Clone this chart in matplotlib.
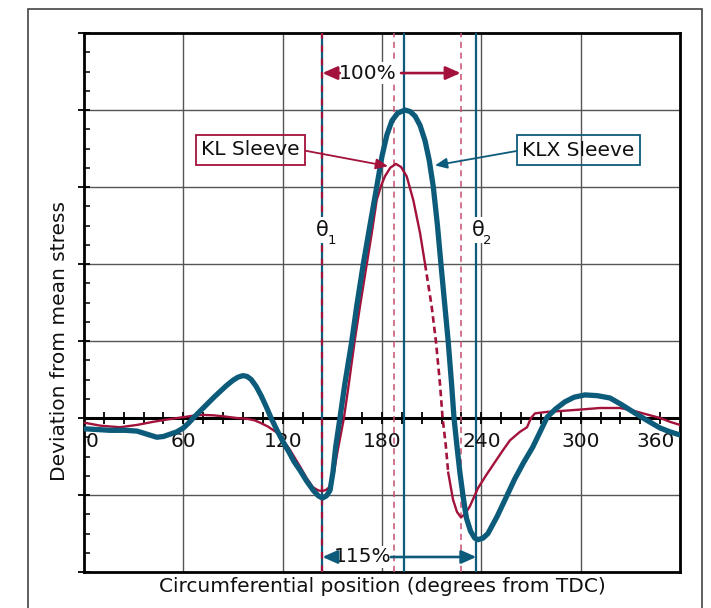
import matplotlib
matplotlib.use("Agg")
import matplotlib.pyplot as plt
from matplotlib.patches import Rectangle
import numpy as np

plt.rcParams['font.family'] = ['DejaVu Sans']

# ---------------- data ----------------
klx_x = [0, 8, 15.7, 25, 32, 38, 44, 48, 52, 56, 60, 63, 66, 72, 79, 86, 90, 93, 96, 98.5,
         101, 104, 107, 110, 113, 116.6, 120, 124, 127, 130.5, 134.5, 138.5, 141.5, 144,
         146.5, 148.6, 150.4, 152, 154.6, 157.6, 161.7, 164.7, 168.7, 172.7, 176.8, 180, 183,
         186, 189.5, 193.9, 197, 200, 203, 206, 208.5, 211, 213.5, 215.6, 218, 220, 222,
         223.5, 225.2, 227, 229, 231, 233.5, 236, 238, 241, 244, 249.5, 255, 260, 265.5, 271,
         275.5, 279.7, 285, 290.5, 296, 302.6, 310, 317.7, 325, 331.6, 340, 348, 354, 360]
klx_y = [-0.14, -0.15, -0.16, -0.16, -0.17, -0.21, -0.25, -0.24, -0.21, -0.18, -0.13, -0.07,
         0, 0.13, 0.28, 0.42, 0.49, 0.53, 0.55, 0.54, 0.5, 0.41, 0.29, 0.15, 0.0, -0.16, -0.3,
         -0.45, -0.57, -0.68, -0.82, -0.94, -1.01, -1.04, -1.01, -0.94, -0.7, -0.38, 0, 0.45,
         0.99, 1.45, 2.0, 2.5, 3.0, 3.4, 3.68, 3.86, 3.96, 4.0, 3.98, 3.92, 3.8, 3.6, 3.35,
         3.0, 2.5, 2.0, 1.45, 0.99, 0.45, 0, -0.35, -0.7, -1.02, -1.3, -1.47, -1.56, -1.58,
         -1.56, -1.5, -1.28, -1.03, -0.8, -0.58, -0.38, -0.18, 0.01, 0.12, 0.21, 0.27, 0.30,
         0.29, 0.26, 0.17, 0.08, -0.03, -0.13, -0.18, -0.22]

kl_x = [0, 10, 21.7, 32, 41.7, 50, 59.8, 66, 71.9, 78, 85, 92, 98.5, 103, 106.3, 111, 116.6,
        120, 124, 130.5, 134.5, 138.3, 141.5, 144, 146.5, 148.6, 151, 153, 157, 160, 163.5,
        166.7, 170.8, 173.8, 176.8, 179.5, 181.8, 185, 188.4, 191.5, 194.9, 198.9, 203, 206,
        210, 212.6, 215, 216.6, 218.5, 220, 222.9, 225.3, 227.7, 230, 233, 238, 243, 248.3,
        253, 257.3, 263.3, 267.6, 270, 272.4, 280, 287.5, 300, 311.7, 323.7, 331, 337.6, 348,
        354, 360]
kl_y = [-0.06, -0.1, -0.12, -0.09, -0.05, -0.02, 0.01, 0.03, 0.04, 0.035, 0.02, 0.0, -0.01,
        -0.03, -0.06, -0.11, -0.19, -0.28, -0.4, -0.63, -0.78, -0.9, -0.94, -0.95, -0.93,
        -0.89, -0.7, -0.45, 0, 0.45, 1.0, 1.45, 2.0, 2.4, 2.83, 3.02, 3.14, 3.25, 3.3, 3.26,
        3.14, 2.83, 2.4, 2.0, 1.45, 0.99, 0.45, 0, -0.35, -0.71, -1.06, -1.22, -1.29, -1.25,
        -1.15, -0.91, -0.74, -0.57, -0.42, -0.29, -0.18, -0.12, 0, 0.06, 0.08, 0.09, 0.11,
        0.13, 0.13, 0.1, 0.06, 0, -0.05, -0.09]
kl_dash_start, kl_dash_end = 206, 220

theta1 = 144
kl_peak_x, kl_end_x = 187.3, 227.5
klx_peak_x, klx_end_x = 193.0, 237.0

xtick_vals = [0, 60, 120, 180, 240, 300, 360]
xtick_labels = ['0', '60', '120', '180', '240', '300', '360']
xtick_label_pos = [5, 60, 120, 180, 240, 300, 345.5]

RED = '#a3123a'
RED_L = '#c8506f'
BLUE = '#0d5b7b'
GRID = '#555555'

# ---------------- figure ----------------
fig = plt.figure(figsize=(7.11, 6.08), dpi=100)
ax = fig.add_axes([84/711, 1-572/608, (680-84)/711, (572-33)/608])
ax.set_xlim(0, 360)
ax.set_ylim(-2, 5)

# outer frame
fig.add_artist(Rectangle((28/711, -0.05), (702-28)/711, 1.05-9/608, transform=fig.transFigure,
                         fill=False, edgecolor='#444444', linewidth=1.2))

# grid
for gx in [60, 120, 180, 240, 300]:
    ax.axvline(gx, color=GRID, lw=1.0, zorder=1)
for gy in [-1, 1, 2, 3, 4]:
    ax.axhline(gy, color=GRID, lw=1.0, zorder=1)
ax.axhline(0, color='black', lw=2.2, zorder=2)

# minor x ticks on zero line
tx = np.arange(12, 360, 12)
ax.plot(tx, np.zeros_like(tx), linestyle='none', marker='|', markersize=9, mew=1.3,
        color='black', zorder=2)

# y ticks
ax.set_xticks([])
ax.set_yticks(np.arange(-2, 6, 1))
ax.set_yticks(np.arange(-2, 5.01, 0.25), minor=True)
ax.tick_params(axis='y', which='major', direction='inout', length=8, width=1.3, labelleft=False)
ax.tick_params(axis='y', which='minor', direction='in', length=4, width=1.1)
for s in ax.spines.values():
    s.set_linewidth(2.0)
    s.set_color('black')

# reference vertical lines
ax.axvline(theta1, color=BLUE, lw=1.6, zorder=3)
ax.axvline(theta1, color=RED, lw=1.6, ls=(0, (3, 3)), zorder=3.1)
ax.axvline(kl_peak_x, color=RED_L, lw=1.1, ls=(0, (4, 3)), zorder=3)
ax.axvline(kl_end_x, color=RED_L, lw=1.1, ls=(0, (4, 3)), zorder=3)
ax.axvline(klx_peak_x, color=BLUE, lw=1.6, zorder=3)
ax.axvline(klx_end_x, color=BLUE, lw=1.6, zorder=3)

# curves
kx = np.array(kl_x); ky = np.array(kl_y)
m1 = kx <= kl_dash_start
m2 = (kx >= kl_dash_start) & (kx <= kl_dash_end)
m3 = kx >= kl_dash_end
ax.plot(kx[m1], ky[m1], color=RED, lw=1.7, zorder=5, solid_joinstyle='round')
ax.plot(kx[m2], ky[m2], color=RED, lw=1.9, ls=(0, (2.5, 1.5)), zorder=5)
ax.plot(kx[m3], ky[m3], color=RED, lw=1.7, zorder=5, solid_joinstyle='round')
ax.plot(klx_x, klx_y, color=BLUE, lw=3.8, zorder=6, solid_joinstyle='round',
        solid_capstyle='round')

# x tick labels
for v, lab in zip(xtick_label_pos, xtick_labels):
    ax.text(v, -0.31, lab, ha='center', va='center', fontsize=14.5, color='#111111', zorder=4)

# axis labels
fig.text(382/711, 1-586/608, 'Circumferential position (degrees from TDC)', ha='center',
         va='center', fontsize=14.5, color='#111111')
fig.text(60/711, 1-341/608, 'Deviation from mean stress', ha='center', va='center',
         rotation=90, fontsize=14.5, color='#111111')

# percentage arrows
arw = dict(arrowstyle='-|>,head_length=0.9,head_width=0.4', lw=1.9, shrinkA=0, shrinkB=0)
ax.text(171.5, 4.48, '100%', ha='center', va='center', fontsize=14.5, color='#111111',
        zorder=7, bbox=dict(facecolor='white', edgecolor='none', pad=1))
ax.annotate('', xy=(theta1, 4.48), xytext=(154.5, 4.48),
            arrowprops=dict(arw, color=RED), zorder=7)
ax.annotate('', xy=(kl_end_x, 4.48), xytext=(191.5, 4.48),
            arrowprops=dict(arw, color=RED), zorder=7)

ax.text(168.5, -1.805, '115%', ha='center', va='center', fontsize=14.5, color='#111111',
        zorder=7, bbox=dict(facecolor='white', edgecolor='none', pad=1))
ax.annotate('', xy=(theta1, -1.805), xytext=(153, -1.805),
            arrowprops=dict(arw, color=BLUE), zorder=7)
ax.annotate('', xy=(klx_end_x, -1.805), xytext=(185.4, -1.805),
            arrowprops=dict(arw, color=BLUE), zorder=7)

# theta labels
for (tx_, sub) in [(theta1, '1'), (238, '2')]:
    ax.text(tx_, 2.44, 'θ', ha='center', va='center', fontsize=15, color='#111111', zorder=7,
            bbox=dict(facecolor='white', edgecolor='none', pad=2))
    ax.text(tx_ + 5.5, 2.30, sub, ha='center', va='center', fontsize=9.5, color='#111111',
            zorder=7.1)

# legend call-outs
ax.annotate('KL Sleeve', xy=(183.6, 3.27), xytext=(100.5, 3.485), ha='center', va='center',
            fontsize=14.5, color='#111111', zorder=8,
            bbox=dict(boxstyle='square,pad=0.27', facecolor='none', edgecolor=RED, lw=1.3),
            arrowprops=dict(arrowstyle='-|>,head_length=0.5,head_width=0.22', color=RED, lw=1.3,
                            relpos=(1, 0.5), shrinkA=0, shrinkB=0))
ax.annotate('KLX Sleeve', xy=(212, 3.28), xytext=(298.5, 3.48), ha='center', va='center',
            fontsize=14.5, color='#111111', zorder=8,
            bbox=dict(boxstyle='square,pad=0.27', facecolor='none', edgecolor=BLUE, lw=1.3),
            arrowprops=dict(arrowstyle='-|>,head_length=0.5,head_width=0.22', color=BLUE, lw=1.3,
                            relpos=(0, 0.5), shrinkA=0, shrinkB=0))

fig.savefig('out.png', dpi=100)
